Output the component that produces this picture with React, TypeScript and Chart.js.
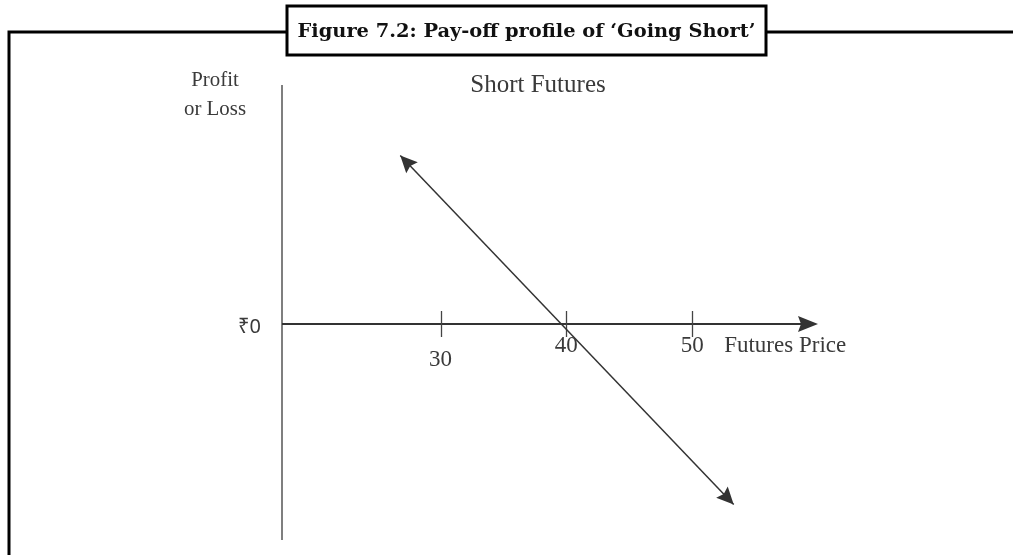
import React, { useEffect, useRef } from "react";
import { Chart, registerables } from "chart.js";

Chart.register(...registerables);

// ---- Data ----
const figureTitle = "Figure 7.2: Pay-off profile of \u2018Going Short\u2019";
const chartSubtitle = "Short Futures";
const yAxisTitle = ["Profit", "or Loss"];
const xAxisTitle = "Futures Price";
const zeroLabel = "\u20B90";
const priceTicks = [30, 40, 50];
const priceTickLabels = ["30", "40", "50"];
const payoffPrice = [26.8, 53.3];
const payoffValue = [12.8, -13.7];
const priceRange = [17.4, 60];
const payoffRange = [-16.4, 18.15];

const SERIF_BOLD = "'DejaVu Serif', 'Liberation Serif', serif";
const SERIF = "'Liberation Serif', 'DejaVu Serif', serif";
const SANS = "'Noto Sans', 'DejaVu Sans', 'Liberation Sans', sans-serif";

function fitText(
  ctx: CanvasRenderingContext2D,
  text: string,
  family: string,
  weight: string,
  targetWidth: number,
  maxSize: number
) {
  const probe = 20;
  ctx.font = `${weight} ${probe}px ${family}`;
  const w = ctx.measureText(text).width;
  const size = Math.min(maxSize, Math.max(8, (probe * targetWidth) / w));
  ctx.font = `${weight} ${size}px ${family}`;
}

function arrowHead(
  ctx: CanvasRenderingContext2D,
  tipX: number,
  tipY: number,
  fromX: number,
  fromY: number,
  len: number,
  half: number
) {
  const a = Math.atan2(tipY - fromY, tipX - fromX);
  const bx = tipX - Math.cos(a) * len;
  const by = tipY - Math.sin(a) * len;
  const nx = -Math.sin(a);
  const ny = Math.cos(a);
  const ix = tipX - Math.cos(a) * len * 0.85;
  const iy = tipY - Math.sin(a) * len * 0.85;
  ctx.beginPath();
  ctx.moveTo(tipX, tipY);
  ctx.lineTo(bx + nx * half, by + ny * half);
  ctx.lineTo(ix, iy);
  ctx.lineTo(bx - nx * half, by - ny * half);
  ctx.closePath();
  ctx.fill();
}

const figurePlugin = {
  id: "figurePlugin",
  beforeDatasetsDraw(chart: any) {
    const ctx = chart.ctx as CanvasRenderingContext2D;
    const xs = chart.scales.x;
    const ys = chart.scales.y;
    const { left, right, top, bottom } = chart.chartArea;
    const y0 = ys.getPixelForValue(0);
    ctx.save();
    // y axis
    ctx.strokeStyle = "#555";
    ctx.lineWidth = 1.5;
    ctx.beginPath();
    ctx.moveTo(left, top);
    ctx.lineTo(left, bottom);
    ctx.stroke();
    // x axis
    ctx.strokeStyle = "#333";
    ctx.fillStyle = "#333";
    ctx.lineWidth = 2;
    ctx.beginPath();
    ctx.moveTo(left, y0);
    ctx.lineTo(right - 10, y0);
    ctx.stroke();
    arrowHead(ctx, right, y0, left, y0, 20, 8);
    // ticks
    ctx.strokeStyle = "#444";
    ctx.lineWidth = 1.3;
    priceTicks.forEach((v) => {
      const px = Math.round(xs.getPixelForValue(v)) + 0.5;
      ctx.beginPath();
      ctx.moveTo(px, y0 - 13);
      ctx.lineTo(px, y0 + 13);
      ctx.stroke();
    });
    ctx.restore();
  },
  afterDatasetsDraw(chart: any) {
    const ctx = chart.ctx as CanvasRenderingContext2D;
    const pts = chart.getDatasetMeta(0).data;
    if (pts.length < 2) return;
    ctx.save();
    ctx.fillStyle = "#333";
    const p0 = pts[0];
    const p1 = pts[pts.length - 1];
    arrowHead(ctx, p0.x, p0.y, p1.x, p1.y, 17, 8);
    arrowHead(ctx, p1.x, p1.y, p0.x, p0.y, 17, 8);
    ctx.restore();
  },
  afterDraw(chart: any) {
    const ctx = chart.ctx as CanvasRenderingContext2D;
    const xs = chart.scales.x;
    const ys = chart.scales.y;
    const { left } = chart.chartArea;
    const W = chart.width;
    const H = chart.height;
    const y0 = ys.getPixelForValue(0);
    ctx.save();
    // frame
    ctx.strokeStyle = "#000";
    ctx.lineWidth = 3;
    const boxL = 287;
    const boxR = 766;
    const boxT = 6;
    const boxB = 55;
    const frameY = 32;
    ctx.beginPath();
    ctx.moveTo(9, H + 2);
    ctx.lineTo(9, frameY);
    ctx.lineTo(boxL, frameY);
    ctx.moveTo(boxR, frameY);
    ctx.lineTo(W + 2, frameY);
    ctx.stroke();
    ctx.fillStyle = "#fff";
    ctx.fillRect(boxL, boxT, boxR - boxL, boxB - boxT);
    ctx.strokeRect(boxL, boxT, boxR - boxL, boxB - boxT);
    // title
    ctx.fillStyle = "#111";
    ctx.textAlign = "center";
    ctx.textBaseline = "alphabetic";
    fitText(ctx, figureTitle, SERIF_BOLD, "bold", 458, 20);
    ctx.fillText(figureTitle, (boxL + boxR) / 2, 37);

    ctx.fillStyle = "#3a3a3a";
    // subtitle
    fitText(ctx, chartSubtitle, SERIF, "normal", 144, 25);
    ctx.fillText(chartSubtitle, 538, 92);
    // y axis title
    fitText(ctx, "or Loss", SERIF, "normal", 62, 22);
    ctx.fillText(yAxisTitle[0], 215, 86);
    ctx.fillText(yAxisTitle[1], 215, 115);
    // zero label
    ctx.font = `20px ${SANS}`;
    ctx.textAlign = "right";
    ctx.textBaseline = "middle";
    ctx.fillText(zeroLabel, left - 21, y0 + 3);
    // tick labels
    ctx.textAlign = "center";
    ctx.textBaseline = "alphabetic";
    fitText(ctx, xAxisTitle, SERIF, "normal", 124, 23);
    priceTicks.forEach((v, i) => {
      const px = xs.getPixelForValue(v);
      const base = i === 0 ? y0 + 42 : y0 + 28;
      ctx.fillText(priceTickLabels[i], px, base);
    });
    ctx.textAlign = "left";
    ctx.fillText(xAxisTitle, xs.getPixelForValue(priceTicks[2]) + 32, y0 + 28);
    ctx.restore();
  },
};

export default function App() {
  const ref = useRef<HTMLCanvasElement | null>(null);
  useEffect(() => {
    if (!ref.current) return;
    const chart = new Chart(ref.current, {
      type: "line",
      data: {
        datasets: [
          {
            label: chartSubtitle,
            data: payoffPrice.map((x, i) => ({ x, y: payoffValue[i] })),
            borderColor: "#333",
            borderWidth: 1.5,
            pointRadius: 0,
            fill: false,
            tension: 0,
            clip: false as any,
          },
        ],
      },
      options: {
        animation: false,
        responsive: false,
        devicePixelRatio: 1,
        layout: { padding: { left: 282, right: 195, top: 85, bottom: 15 } },
        plugins: {
          legend: { display: false },
          title: { display: false },
          tooltip: { enabled: false },
        },
        events: [],
        scales: {
          x: {
            type: "linear",
            min: priceRange[0],
            max: priceRange[1],
            display: false,
          },
          y: {
            type: "linear",
            min: payoffRange[0],
            max: payoffRange[1],
            display: false,
          },
        },
      },
      plugins: [figurePlugin],
    });
    return () => chart.destroy();
  }, []);
  return (
    <div style={{ position: "absolute", left: 0, top: 0, width: 1013, height: 555, background: "#fff" }}>
      <canvas ref={ref} width={1013} height={555} />
    </div>
  );
}
